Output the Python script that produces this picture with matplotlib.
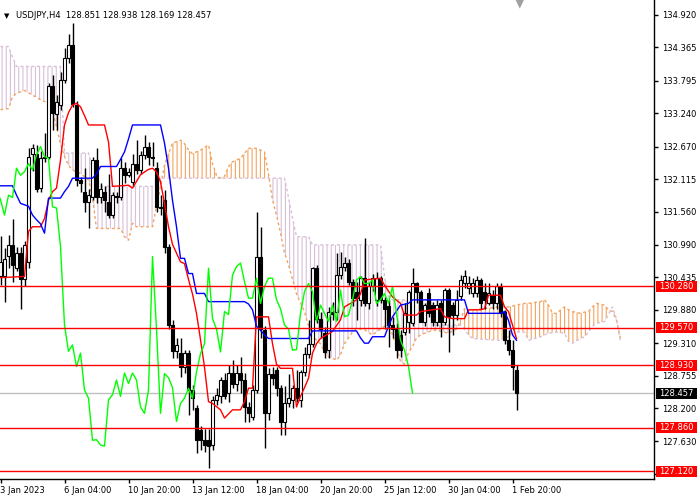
import numpy as np
import matplotlib
matplotlib.use('Agg')
import matplotlib.pyplot as plt
import matplotlib.transforms as mtransforms
from matplotlib.patches import Rectangle

# USDJPY H4 candles, bar 0 .. 129
opens = [130.45, 130.45, 130.80, 130.98, 130.60, 130.85, 130.40, 130.70, 132.55, 132.55,
         131.96, 132.47, 132.50, 133.70, 133.22, 133.38, 133.81, 134.18, 134.40, 133.38,
         132.10, 131.90, 131.73, 131.80, 132.44, 131.80, 131.90, 131.73, 131.50, 131.82,
         131.81, 132.30, 132.18, 132.07, 132.38, 132.27, 132.53, 132.67, 132.50, 132.30,
         131.64, 131.75, 130.96, 129.62, 129.17, 129.14, 128.91, 129.14, 128.51, 128.20,
         127.83, 127.66, 127.66, 127.57, 128.34, 128.40, 128.68, 128.45, 128.80, 128.62,
         128.80, 128.68, 128.22, 128.05, 128.51, 130.79, 129.53, 128.11, 128.79, 128.85,
         128.54, 127.97, 128.28, 128.34, 128.54, 128.34, 128.82, 129.13, 129.30, 130.59,
         129.73, 129.48, 129.19, 129.85, 129.85, 130.47, 130.62, 130.68, 130.36, 130.19,
         130.05, 130.42, 129.99, 130.28, 130.05, 130.42, 130.05, 129.95, 129.62, 129.55,
         129.45, 129.50, 129.68, 129.65, 130.33, 130.19, 129.68, 130.16, 129.96, 129.68,
         129.99, 129.68, 130.22, 129.96, 129.79, 130.11, 130.33, 130.25, 130.16, 130.16,
         130.39, 130.19, 129.99, 130.13, 129.99, 130.28, 129.85, 129.36, 129.19, 128.851]
highs = [131.15, 130.93, 131.16, 131.44, 130.95, 130.95, 131.05, 132.65, 132.72, 132.70,
         132.60, 132.90, 133.75, 133.90, 133.55, 133.95, 134.35, 134.60, 134.78, 133.45,
         132.15, 132.30, 131.95, 132.50, 132.64, 132.05, 132.00, 132.21, 131.90, 131.90,
         132.47, 132.40, 132.30, 132.55, 132.78, 132.60, 132.87, 132.75, 132.75, 132.40,
         131.85, 131.93, 131.00, 129.70, 129.40, 129.40, 129.20, 129.20, 128.60, 128.25,
         127.90, 127.85, 127.85, 128.40, 128.55, 128.74, 128.80, 128.94, 129.02, 128.94,
         129.08, 128.80, 128.30, 128.60, 131.56, 131.30, 129.60, 128.88, 128.90, 128.90,
         128.60, 128.57, 128.79, 128.60, 128.85, 128.85, 129.25, 129.70, 130.62, 130.65,
         129.85, 129.59, 129.93, 130.02, 130.85, 130.87, 130.79, 130.75, 130.40, 130.36,
         130.45, 131.10, 130.36, 130.50, 130.53, 130.45, 130.10, 130.05, 129.75, 129.65,
         129.53, 129.99, 130.22, 130.59, 130.35, 130.22, 129.99, 130.25, 130.02, 130.05,
         130.05, 130.25, 130.25, 130.02, 130.22, 130.47, 130.56, 130.45, 130.42, 130.45,
         130.42, 130.33, 130.33, 130.22, 130.33, 130.33, 129.88, 129.53, 129.36, 128.938]
lows = [130.30, 130.02, 130.60, 130.36, 130.55, 129.90, 130.28, 130.60, 132.25, 131.90,
        131.90, 132.40, 132.45, 132.95, 132.95, 133.30, 133.75, 134.10, 133.35, 132.00,
        131.90, 131.56, 131.28, 131.75, 131.70, 131.70, 131.55, 131.45, 131.45, 131.70,
        131.75, 132.05, 132.15, 132.00, 132.20, 132.20, 132.45, 132.35, 132.33, 131.55,
        131.50, 130.85, 129.55, 129.05, 129.05, 128.74, 128.80, 128.08, 128.17, 127.43,
        127.48, 127.45, 127.17, 127.48, 128.25, 128.28, 128.35, 128.31, 128.55, 128.50,
        128.45, 127.97, 127.97, 127.99, 128.45, 129.40, 127.51, 128.00, 128.60, 128.40,
        127.74, 127.74, 128.22, 128.20, 128.30, 128.22, 128.75, 129.05, 129.25, 129.65,
        129.40, 129.05, 129.05, 129.70, 129.70, 130.40, 130.55, 130.30, 129.95, 129.70,
        129.95, 129.95, 129.90, 130.20, 129.95, 129.99, 129.55, 129.25, 129.40, 129.05,
        129.08, 129.45, 129.48, 129.60, 129.99, 129.68, 129.60, 129.75, 129.60, 129.60,
        129.42, 129.62, 129.16, 129.45, 129.70, 130.05, 130.25, 130.15, 130.10, 130.10,
        129.90, 129.90, 129.96, 129.90, 129.90, 129.76, 129.30, 129.10, 128.51, 128.169]
closes = [130.70, 130.75, 130.98, 130.65, 130.85, 130.40, 130.99, 132.50, 132.65, 131.95,
          132.47, 132.50, 133.70, 133.25, 133.44, 133.80, 134.18, 134.41, 133.40, 132.10,
          132.05, 131.73, 131.85, 132.44, 131.80, 131.95, 131.76, 131.50, 131.84, 131.80,
          132.30, 132.18, 132.24, 132.38, 132.27, 132.53, 132.67, 132.50, 132.47, 131.64,
          131.62, 130.96, 129.62, 129.17, 129.28, 128.91, 129.14, 128.51, 128.37, 127.65,
          127.66, 127.57, 127.55, 128.34, 128.43, 128.68, 128.40, 128.80, 128.62, 128.80,
          128.68, 128.22, 128.11, 128.51, 130.79, 129.55, 128.11, 128.79, 128.72, 128.55,
          127.97, 128.28, 128.37, 128.54, 128.37, 128.82, 129.13, 129.30, 130.59, 129.73,
          129.55, 129.16, 129.85, 129.80, 130.47, 130.62, 130.68, 130.36, 130.08, 130.08,
          130.42, 129.99, 130.28, 130.42, 130.42, 130.05, 129.90, 129.62, 129.55, 129.19,
          129.20, 129.82, 130.19, 130.33, 130.19, 129.68, 129.96, 129.82, 129.68, 129.96,
          129.68, 130.22, 129.76, 129.79, 130.05, 130.39, 130.45, 130.33, 130.33, 130.39,
          129.99, 130.05, 130.16, 129.99, 130.28, 129.82, 129.36, 129.19, 128.91, 128.457]

# Tenkan-sen (red) and Kijun-sen (blue) breakpoints: bar index, price
tenkan_x = [0, 6, 7, 8, 10, 11, 12, 13, 14, 15, 16, 17, 18, 19, 20, 21, 22, 26, 27, 28,
            32, 33, 35, 37, 38, 39, 40, 41, 42, 43, 45, 46, 47, 48, 49, 50, 51, 52, 53, 55,
            56, 57, 58, 60, 61, 62, 63, 64, 67, 68, 69, 70, 73, 74, 75, 76, 77, 78, 79, 80,
            83, 85, 86, 89, 90, 91, 95, 96, 97, 98, 100, 101, 104, 105, 110, 111, 113, 116, 117, 120,
            121, 122, 125, 126, 127, 128, 129]
tenkan_y = [130.43, 130.45, 131.22, 131.30, 131.30, 131.44, 131.75, 131.90, 131.96, 132.44,
            133.04, 133.25, 133.38, 133.41, 133.35, 133.20, 133.04, 133.04, 132.75, 131.99,
            132.01, 131.96, 132.19, 132.28, 132.30, 132.24, 132.07, 131.70, 131.30, 131.00,
            130.70, 130.67, 130.40, 130.15, 129.82, 129.37, 128.90, 128.31, 128.28, 128.17,
            128.03, 128.10, 128.17, 128.17, 128.31, 128.54, 128.54, 129.76, 129.76, 129.30,
            128.95, 128.88, 128.88, 128.22, 128.40, 128.55, 128.71, 129.14, 129.30, 129.39,
            129.51, 129.71, 129.93, 130.05, 130.15, 130.39, 130.42, 130.30, 130.20, 130.10,
            129.99, 129.79, 129.79, 129.85, 129.90, 129.76, 129.73, 129.73, 129.88, 129.88,
            129.90, 130.13, 130.13, 129.93, 129.85, 129.62, 129.39]
kijun_x = [0, 3, 4, 5, 7, 8, 9, 10, 11, 12, 15, 16, 17, 18, 23, 24, 25, 29, 30, 31,
           32, 33, 40, 41, 42, 43, 44, 45, 46, 47, 48, 49, 51, 52, 61, 62, 63, 64, 65, 66,
           67, 77, 78, 89, 90, 91, 92, 93, 96, 97, 98, 99, 100, 102, 103, 116, 117, 125, 126, 127,
           128, 129]
kijun_y = [132.00, 132.00, 131.84, 131.70, 131.65, 131.50, 131.42, 131.35, 131.19, 131.79,
           131.79, 131.90, 131.99, 132.13, 132.13, 132.20, 132.33, 132.33, 132.45, 132.58,
           132.80, 133.04, 133.04, 132.73, 132.30, 131.75, 131.30, 130.76, 130.76, 130.50,
           130.50, 130.16, 130.16, 130.02, 130.02, 129.98, 129.88, 129.60, 129.53, 129.45,
           129.39, 129.39, 129.52, 129.52, 129.40, 129.31, 129.31, 129.42, 129.42, 129.60,
           129.76, 129.86, 129.96, 129.99, 130.05, 130.05, 129.82, 129.82, 129.85, 129.70,
           129.45, 129.36]

# Senkou span A / B (already shifted 26 bars ahead)
cloud_x = [0, 2, 3, 4, 6, 8, 10, 12, 13, 14, 15, 16, 17, 18, 20, 22, 23, 24, 30, 31,
           32, 33, 34, 38, 39, 40, 41, 42, 43, 45, 46, 47, 48, 50, 52, 53, 54, 55, 56, 57,
           58, 60, 62, 64, 66, 67, 68, 69, 70, 71, 72, 73, 74, 75, 76, 77, 78, 79, 80, 81,
           82, 84, 85, 86, 87, 88, 89, 91, 93, 95, 96, 97, 98, 99, 100, 101, 102, 103, 104, 105,
           108, 109, 112, 114, 115, 116, 117, 118, 122, 125, 127, 129, 131, 132, 135, 136, 137, 138, 139, 141,
           142, 143, 145, 146, 147, 148, 149, 151, 152, 153, 154, 155]
span_a = [133.30, 133.32, 133.52, 133.58, 133.63, 133.55, 133.47, 133.41, 133.27, 133.01,
          132.72, 132.50, 132.35, 132.27, 132.21, 132.10, 131.80, 131.27, 131.27, 131.13,
          131.07, 131.36, 131.30, 131.30, 131.65, 131.99, 132.35, 132.55, 132.73, 132.78,
          132.72, 132.61, 132.55, 132.61, 132.70, 132.38, 132.18, 132.13, 132.16, 132.33,
          132.41, 132.47, 132.64, 132.64, 132.58, 132.20, 131.76, 131.50, 131.19, 130.85,
          130.65, 130.40, 130.15, 130.00, 129.85, 129.60, 129.45, 129.36, 129.30, 129.15,
          129.08, 129.02, 129.11, 129.30, 129.40, 129.50, 129.56, 129.54, 129.45, 129.55,
          129.60, 129.65, 129.45, 129.25, 129.00, 128.95, 129.15, 129.25, 129.40, 129.45,
          129.53, 129.53, 129.48, 129.55, 129.70, 129.90, 129.88, 129.88, 129.91, 129.93,
          129.93, 129.96, 129.99, 129.99, 130.02, 130.05, 129.96, 129.82, 129.82, 129.93,
          129.88, 129.85, 129.82, 129.84, 129.85, 129.93, 129.99, 129.96, 129.88, 129.85,
          129.70, 129.40]
span_b = [134.38, 134.38, 134.20, 134.04, 134.04, 134.04, 134.04, 134.04, 134.04, 134.04,
          134.04, 132.56, 132.56, 132.56, 132.56, 132.56, 132.30, 131.99, 131.99, 131.99,
          131.99, 131.99, 131.99, 131.99, 131.99, 132.13, 132.13, 132.13, 132.13, 132.13,
          132.13, 132.13, 132.13, 132.13, 132.13, 132.13, 132.13, 132.13, 132.13, 132.13,
          132.13, 132.13, 132.13, 132.13, 132.13, 132.13, 132.13, 132.13, 132.13, 132.13,
          131.80, 131.45, 131.13, 131.13, 131.13, 131.13, 130.99, 130.99, 130.99, 130.99,
          130.99, 130.99, 130.99, 130.99, 130.99, 130.99, 130.99, 130.99, 130.99, 130.99,
          130.45, 130.10, 130.05, 130.05, 130.05, 130.05, 130.05, 130.05, 130.05, 130.05,
          130.05, 129.62, 129.62, 129.62, 129.62, 129.55, 129.45, 129.39, 129.37, 129.36,
          129.42, 129.50, 129.50, 129.36, 129.42, 129.45, 129.48, 129.49, 129.50, 129.48,
          129.34, 129.31, 129.39, 129.42, 129.50, 129.60, 129.65, 129.68, 129.80, 129.93,
          129.72, 129.33]

levels = [130.280, 129.570, 128.930, 127.860, 127.120]
last_price = 128.457
price_ticks = [134.920, 134.365, 133.795, 133.240, 132.670, 132.115, 131.560, 130.990,
               130.435, 129.880, 129.310, 128.755, 128.200, 127.630, 127.075]
date_ticks = [0, 16, 32, 48, 64, 80, 96, 112, 128]
date_labels = ['3 Jan 2023', '6 Jan 04:00', '10 Jan 20:00', '13 Jan 12:00', '18 Jan 04:00',
               '20 Jan 20:00', '25 Jan 12:00', '30 Jan 04:00', '1 Feb 20:00']

plt.rcParams['font.family'] = 'DejaVu Sans'
plt.rcParams['hatch.linewidth'] = 0.8
FS = 6

fig = plt.figure(figsize=(7, 5), dpi=100)
ax = fig.add_axes([0, 21 / 500, 654 / 700, 479 / 500])
ax.set_xlim(-0.125, 163.375)
ax.set_ylim(126.988, 135.176)

# ichimoku cloud
cx = np.array(cloud_x)
sa = np.array(span_a)
sb = np.array(span_b)
ax.fill_between(cx, sa, sb, where=sa >= sb, interpolate=True, facecolor='none',
                edgecolor='#f4a460', hatch='||||', linewidth=0, zorder=1)
ax.fill_between(cx, sa, sb, where=sa < sb, interpolate=True, facecolor='none',
                edgecolor='#d8bfd8', hatch='||||', linewidth=0, zorder=1)
ax.plot(cx, sa, color='#f4a460', lw=1, ls=(0, (2, 2)), zorder=1.5)
ax.plot(cx, sb, color='#d8bfd8', lw=1, ls=(0, (2, 2)), zorder=1.5)

# candles
for i in range(len(closes)):
    o, h, l, c = opens[i], highs[i], lows[i], closes[i]
    ax.vlines(i, l, h, color='black', lw=1, zorder=3)
    body = max(abs(c - o), 0.02)
    ax.bar(i, body, bottom=min(o, c), width=0.55,
           facecolor='white' if c >= o else 'black', edgecolor='black', linewidth=0.8, zorder=3.5)

# lines
ax.plot(tenkan_x, tenkan_y, color='#ff0000', lw=1, zorder=4)
ax.plot(kijun_x, kijun_y, color='#0000ff', lw=1, zorder=4)
ax.plot(np.arange(len(closes)) - 26, closes, color='#00ff00', lw=1, zorder=4)

for lv in levels:
    ax.axhline(lv, color='#ff0000', lw=1, zorder=5)
ax.axhline(last_price, color='#c0c0c0', lw=1, zorder=2)

# axes look
for s in ['left', 'top']:
    ax.spines[s].set_visible(False)
for s in ['right', 'bottom']:
    ax.spines[s].set_color('black')
    ax.spines[s].set_linewidth(1)
ax.yaxis.tick_right()
ax.set_yticks(price_ticks)
ax.set_yticklabels([f'{v:.3f}' for v in price_ticks])
ax.set_xticks(date_ticks)
ax.set_xticklabels(date_labels)
for lab in ax.get_xticklabels():
    lab.set_ha('left')
ax.tick_params(axis='y', length=3, width=1, pad=3, labelsize=FS, colors='black')
ax.tick_params(axis='x', length=3, width=1, pad=2, labelsize=FS, colors='black')

# price boxes on the right scale
trans = mtransforms.blended_transform_factory(ax.transAxes, ax.transData)
box_w = 41 / 654
box_h = 11 / 58.5
for lv, col in [(v, '#ff0000') for v in levels] + [(last_price, 'black')]:
    ax.add_patch(Rectangle((1.003, lv - box_h / 2), box_w, box_h, transform=trans,
                           facecolor=col, edgecolor='none', clip_on=False, zorder=10))
    ax.text(1.0075, lv, f'{lv:.3f}', transform=trans, color='white', fontsize=FS,
            ha='left', va='center', clip_on=False, zorder=11)

fig.text(4 / 700, 1 - 16 / 500, '\u25bc', fontsize=5, color='black', va='center')
fig.text(16 / 700, 1 - 16 / 500, 'USDJPY,H4  128.851 128.938 128.169 128.457',
         fontsize=FS, color='black', va='center')
fig.text(520 / 700, 1 - 3 / 500, '\u25bc', fontsize=9, color='#a0a0a0', va='center', ha='center')

fig.savefig('out.png', dpi=100)
